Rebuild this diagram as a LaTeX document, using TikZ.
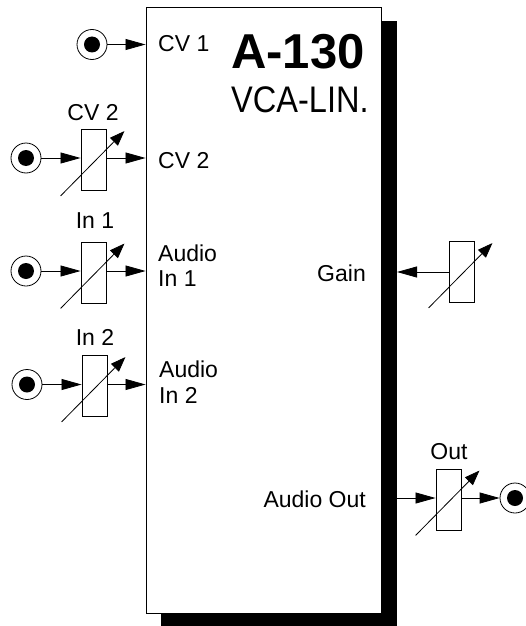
\documentclass[tikz,border=0pt]{standalone}
\usepackage{fontspec}
\setmainfont{Liberation Sans}
\usetikzlibrary{arrows.meta,positioning,calc}
\tikzset{
  txt/.style={font=\fontsize{23}{27}\selectfont,inner sep=0pt},
  pot/.style={draw,line width=0.9pt,minimum width=25pt,minimum height=61pt,inner sep=0pt},
  jack/.style={draw,circle,line width=0.8pt,minimum size=30pt,inner sep=0pt},
  dot/.style={fill,circle,minimum size=16pt,inner sep=0pt},
  sig/.style={line width=0.8pt,-{Triangle[length=20pt,width=11pt]},shorten >=0pt},
  knob/.style={line width=0.8pt,-{Triangle[length=15pt,width=11pt]}},
}
\begin{document}
\begin{tikzpicture}[x=1pt,y=-1pt]
  \useasboundingbox (0,0) rectangle (525,626);
  % Panel with its shadow
  \fill[black] (161,21) rectangle (397,629);
  \node[draw,fill=white,line width=0.9pt,minimum width=235pt,minimum height=606pt,inner sep=0pt] (panel) at (263.5,310) {};
  \node[font=\fontsize{49}{50}\selectfont\bfseries,inner sep=0pt,anchor=base west] (title) at (231,68) {A-130};
  \node[font=\fontsize{37}{39}\selectfont,xscale=0.88,inner sep=0pt,anchor=base west] (subtitle) at (231,112) {VCA-LIN.};

  % Inputs with attenuator
  \foreach \n/\lab/\jx/\jy/\px/\py/\lx/\ly in {2/CV 2/26/158/93.5/160/93/113,3/In 1/26/271/93.5/272.5/95/221,4/In 2/27/384.5/94.5/386/95/337} {
    \node[jack] (jack\n) at (\jx,\jy) {};
    \node[dot] at (jack\n) {};
    \node[pot] (pot\n) at (\px,\py) {};
    \node[txt] (lab\n) at (\lx,\ly) {\lab};
    \draw[knob] ($(pot\n.south west)+(-20,5)$) -- ($(pot\n.north east)+(18,2)$);
    \draw[sig] (jack\n.east) -- (jack\n -| pot\n.west);
    \draw[sig] (jack\n -| pot\n.east) -- (jack\n -| panel.west);
  }

  % CV 1 has no attenuator
  \node[jack] (jack1) at (92,44.5) {};
  \node[dot] at (jack1) {};
  \draw[sig] (jack1.east) -- (jack1 -| panel.west);

  % Gain knob
  \node[pot] (gain) at (461.5,272) {};
  \draw[knob] ($(gain.south west)+(-20,5)$) -- ($(gain.north east)+(18,2)$);
  \coordinate (shadowright) at (397,272);
  \draw[sig] (gain.west) -- (shadowright);

  % Output
  \node[pot] (potout) at (448.5,499.5) {};
  \node[txt] (labout) at (449,452) {Out};
  \draw[knob] ($(potout.south west)+(-20,5)$) -- ($(potout.north east)+(18,2)$);
  \node[jack] (jackout) at (515,498) {};
  \node[dot] at (jackout) {};
  \coordinate (shadowout) at (397,498);
  \draw[sig] (shadowout) -- (shadowout -| potout.west);
  \draw[sig] (jackout -| potout.east) -- (jackout.west);

  % Labels on the panel
  \node[txt,anchor=base west] (cv1) at (158,52) {CV 1};
  \node[txt,anchor=base west] (cv2) at (158,168) {CV 2};
  \node[txt,anchor=base west] (in1a) at (158,261) {Audio};
  \node[txt,anchor=base west] (in1b) at (158,286) {In 1};
  \node[txt,anchor=base west] (in2a) at (159,377) {Audio};
  \node[txt,anchor=base west] (in2b) at (159,403) {In 2};
  \node[txt,anchor=base east] (gainlab) at (366,281) {Gain};
  \node[txt,anchor=base east] (outlab) at (366,507) {Audio Out};
\end{tikzpicture}
\end{document}
